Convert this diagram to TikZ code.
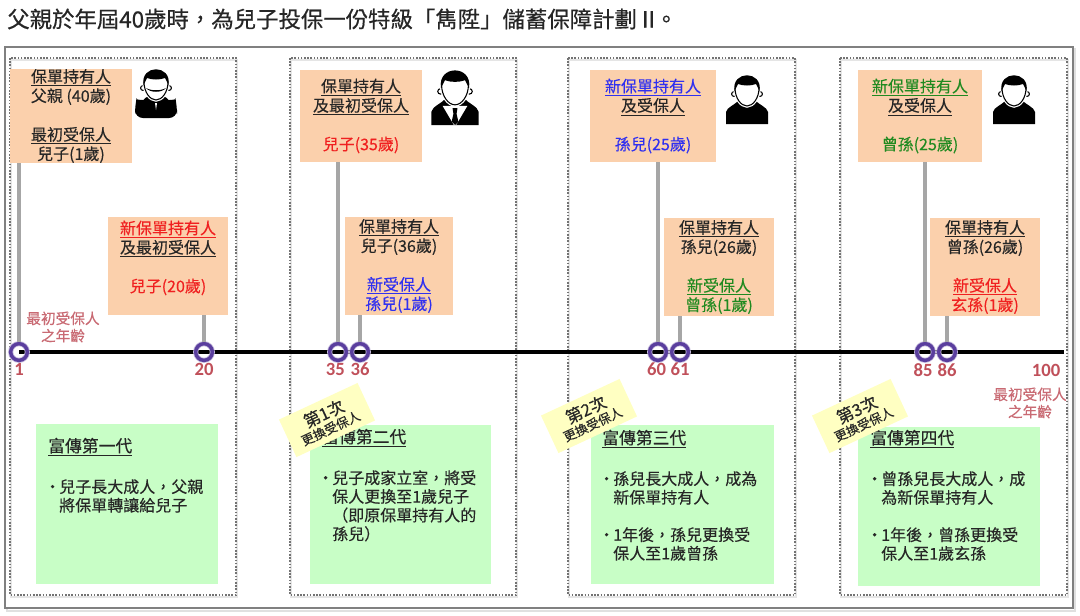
\documentclass[tikz,border=0pt]{standalone}
\usepackage{fontspec}
\setmainfont{Noto Sans CJK TC}[RawFeature={embolden=0.25}]
\newfontfamily\headfont{Noto Sans CJK TC}[RawFeature={embolden=0.5}]
\newfontfamily\numfont{Carlito}
\usetikzlibrary{positioning}

\definecolor{boxorange}{HTML}{FBD0AC}
\definecolor{boxgreen}{HTML}{C8FEC6}
\definecolor{notey}{HTML}{FFFFC2}
\definecolor{markring}{HTML}{5A3E9E}
\definecolor{agered}{HTML}{C0505A}
\definecolor{inkdark}{HTML}{262626}
\definecolor{newred}{HTML}{F02020}
\definecolor{newblue}{HTML}{3030F0}
\definecolor{newgreen}{HTML}{208A20}

\newcommand{\bul}{\makebox[6pt][l]{\kern-5pt\textbullet}}
\newcommand{\ind}{\hspace*{6pt}}

\begin{document}
\begin{tikzpicture}[x=.75pt,y=-.75pt,
    every node/.style={inner sep=0pt,text=inkdark},
    titletext/.style={font=\headfont\fontsize{16.8}{20}\selectfont,anchor=west},
    outerframe/.style={draw=black!50,line width=1.5pt},
    framedrop/.style={draw=black!12,line width=1.5pt},
    stage/.style={draw=black!55,line width=1.2pt,dash pattern=on 1.2pt off 1.2pt},
    stagedrop/.style={draw=black!10,line width=1.2pt},
    holder/.style={fill=boxorange,align=center,font=\fontsize{12}{14.5}\selectfont},
    gen/.style={fill=boxgreen},
    gentitle/.style={anchor=west,font=\fontsize{12.6}{15}\selectfont},
    genbody/.style={anchor=north west,align=left,font=\fontsize{12}{14}\selectfont},
    change/.style={fill=notey,rotate=25,align=center,minimum width=65pt,minimum height=31pt,
        font=\fontsize{9.5}{11}\selectfont},
    agemark/.style={circle,minimum size=12.5pt,draw=markring,line width=2.6pt,
        preaction={draw=markring!35,line width=3.8pt}},
    agenum/.style={text=agered,font=\numfont\bfseries\fontsize{14}{16}\selectfont},
    agenote/.style={text=agered!85,align=center,font=\fontsize{11}{13}\selectfont},
    stem/.style={draw=black!35,line width=3pt},
    timeline/.style={draw=black,line width=2.3pt},
    personbody/.style={},
    person/.pic={
        \fill[black,personbody] (-21,0) -- (-21,-12) .. controls (-20,-17) and (-12,-19) .. (-8,-24)
            -- (8,-24) .. controls (12,-19) and (20,-17) .. (21,-12) -- (21,0) -- cycle;
        \filldraw[fill=white,draw=black,line width=.8pt] (-13,-30) circle (2.4) (13,-30) circle (2.4);
        \fill[white,preaction={draw=white,line width=2.6pt}]
            (-12,-38) -- (-12,-36) .. controls (-12,-26) and (-6,-18) .. (0,-18)
            .. controls (6,-18) and (12,-26) .. (12,-36) -- (12,-38) -- cycle;
        \draw[black,line width=.8pt] (-12,-36) .. controls (-12,-26) and (-6,-18) .. (0,-18)
            .. controls (6,-18) and (12,-26) .. (12,-36);
        \fill[black] (-12.5,-33) .. controls (-16,-54) and (16,-54) .. (12.5,-33)
            .. controls (11,-36) and (10,-38) .. (9,-40) .. controls (4,-38) and (-4,-38) .. (-9,-40)
            .. controls (-10,-38) and (-11,-36) .. (-12.5,-33) -- cycle;
    },
    necktie/.pic={
        \fill[white] (-11,-17) -- (11,-17) -- (1,0) -- (-1,0) -- cycle;
        \fill[black] (-2.2,-15) -- (2.2,-15) -- (1.4,-10) -- (3,-3) -- (0,0) -- (-3,-3) -- (-1.4,-10) -- cycle;
    },
    shades/.pic={
        \fill[black] (-10,-30) .. controls (-5,-27) and (5,-27) .. (10,-30)
            .. controls (6,-25) and (-6,-25) .. (-10,-30) -- cycle;
        \fill[white] (-1,-15) -- (1,-15) -- (0,-8) -- cycle;
    },
    ]

    \useasboundingbox (0,0) rectangle (1080,615);

    \node[titletext] (headline) at (7,19) {父親於年屆40歲時，為兒子投保一份特級「雋陞」儲蓄保障計劃 II。};

    % frames
    \draw[framedrop] (7,49) rectangle (1075,611);
    \draw[outerframe,fill=white] (5,47) rectangle (1073,608);
    \foreach \xa/\xb in {10/236,290/516,568/795,840/1067}{
        \draw[stagedrop] (\xa+1,60) rectangle (\xb+1,597);
        \draw[stage] (\xa,58) rectangle (\xb,595);
    }

    % timeline under the marks
    \coordinate (agestart) at (19,352);
    \coordinate (ageend) at (1064,352);
    \draw[timeline] (agestart) -- (ageend);

    \node[agemark] (age1) at (agestart) {};
    \node[agemark] (age20) at (204,352) {};
    \node[agemark] (age35) at (338,352) {};
    \node[agemark] (age36) at (360,352) {};
    \node[agemark] (age60) at (658,352) {};
    \node[agemark] (age61) at (680,352) {};
    \node[agemark] (age85) at (925,352) {};
    \node[agemark] (age86) at (947,352) {};

    \node[agenum,below=.6pt of age1] (num1) {1};
    \node[agenum,below=.6pt of age20] (num20) {20};
    \node[agenum,below=.6pt of age35,xshift=-2pt] (num35) {35};
    \node[agenum,below=.6pt of age36] (num36) {36};
    \node[agenum,below=.6pt of age60,xshift=-1pt] (num60) {60};
    \node[agenum,below=.6pt of age61] (num61) {61};
    \node[agenum,below=.6pt of age85,xshift=-1.5pt] (num85) {85};
    \node[agenum,below=.6pt of age86] (num86) {86};
    \node[agenum] (num100) at (1046,370) {100};

    \node[agenote] (firstage) at (63,327) {最初受保人\\之年齡};
    \node[agenote] (lastage) at (1030,403) {最初受保人\\之年齡};

    % policy boxes
    \node[holder,minimum width=91.5pt,minimum height=69pt] (hold1) at (71,116)
        {\underline{保單持有人}\\父親 (40歲)\\~\\\underline{最初受保人}\\兒子(1歲)};
    \node[holder,minimum width=90pt,minimum height=73pt] (hold2) at (168,266)
        {\textcolor{newred}{\underline{新保單持有人}}\\\underline{及最初受保人}\\~\\\textcolor{newred}{兒子(20歲)}\\~};
    \node[holder,minimum width=92pt,minimum height=69pt] (hold3) at (361,116)
        {\underline{保單持有人}\\\underline{及最初受保人}\\~\\\textcolor{newred}{兒子(35歲)}};
    \node[holder,minimum width=81pt,minimum height=73pt] (hold4) at (399,266)
        {\underline{保單持有人}\\兒子(36歲)\\~\\\textcolor{newblue}{\underline{新受保人}}\\\textcolor{newblue}{孫兒(1歲)}};
    \node[holder,minimum width=94pt,minimum height=69pt] (hold5) at (653,116)
        {\textcolor{newblue}{\underline{新保單持有人}}\\\underline{及受保人}\\~\\\textcolor{newblue}{孫兒(25歲)}};
    \node[holder,minimum width=82.5pt,minimum height=73pt] (hold6) at (719,267)
        {\underline{保單持有人}\\孫兒(26歲)\\~\\\textcolor{newgreen}{\underline{新受保人}}\\\textcolor{newgreen}{曾孫(1歲)}};
    \node[holder,minimum width=93pt,minimum height=69pt] (hold7) at (920,116)
        {\textcolor{newgreen}{\underline{新保單持有人}}\\\underline{及受保人}\\~\\\textcolor{newgreen}{曾孫(25歲)}};
    \node[holder,minimum width=82pt,minimum height=73pt] (hold8) at (985,267)
        {\underline{保單持有人}\\曾孫(26歲)\\~\\\textcolor{newred}{\underline{新受保人}}\\\textcolor{newred}{玄孫(1歲)}};

    \draw[stem] (age1.north) -- (age1 |- hold1.south);
    \draw[stem] (age20.north) -- (age20 |- hold2.south);
    \draw[stem] (age35.north) -- (age35 |- hold3.south);
    \draw[stem] (age36.north) -- (age36 |- hold4.south);
    \draw[stem] (age60.north) -- (age60 |- hold5.south);
    \draw[stem] (age61.north) -- (age61 |- hold6.south);
    \draw[stem] (age85.north) -- (age85 |- hold7.south);
    \draw[stem] (age86.north) -- (age86 |- hold8.south);

    % people
    \pic[personbody/.style={rounded corners=6pt}] at (156,118) {person};
    \pic at (156,118) {shades};
    \pic[scale=1.12] at (455,125) {person};
    \pic[scale=1.12] at (455,125) {necktie};
    \pic at (747,124) {person};
    \pic at (1014,124) {person};

    % generations
    \node[gen,minimum width=136pt,minimum height=120pt] (gen1) at (127,504) {};
    \node[gen,minimum width=136pt,minimum height=119pt] (gen2) at (400.5,504.5) {};
    \node[gen,minimum width=137pt,minimum height=119pt] (gen3) at (682.5,504.5) {};
    \node[gen,minimum width=136.5pt,minimum height=119pt] (gen4) at (949,506.5) {};

    \node[gentitle] (gentitle1) at (48,447) {\underline{富傳第一代}};
    \node[genbody] (genbody1) at (51,479)
        {\bul 兒子長大成人，父親\\\ind 將保單轉讓給兒子};
    \node[gentitle] (gentitle2) at (322,438) {\underline{富傳第二代}};
    \node[genbody] (genbody2) at (324,470)
        {\bul 兒子成家立室，將受\\\ind 保人更換至1歲兒子\\\ind （即原保單持有人的\\\ind 孫兒）};
    \node[gentitle] (gentitle3) at (602,439) {\underline{富傳第三代}};
    \node[genbody] (genbody3) at (605,471)
        {\bul 孫兒長大成人，成為\\\ind 新保單持有人\\~\\\bul 1年後，孫兒更換受\\\ind 保人至1歲曾孫};
    \node[gentitle] (gentitle4) at (870,439) {\underline{富傳第四代}};
    \node[genbody] (genbody4) at (873,471)
        {\bul 曾孫兒長大成人，成\\\ind 為新保單持有人\\~\\\bul 1年後，曾孫更換受\\\ind 保人至1歲玄孫};

    % sticky notes sit on top of the titles
    \node[change] (swap1) at (327,420) {{\fontsize{12.5}{14}\selectfont 第1次}\\更換受保人};
    \node[change] (swap2) at (589,416) {{\fontsize{12.5}{14}\selectfont 第2次}\\更換受保人};
    \node[change] (swap3) at (860,416) {{\fontsize{12.5}{14}\selectfont 第3次}\\更換受保人};
\end{tikzpicture}
\end{document}
